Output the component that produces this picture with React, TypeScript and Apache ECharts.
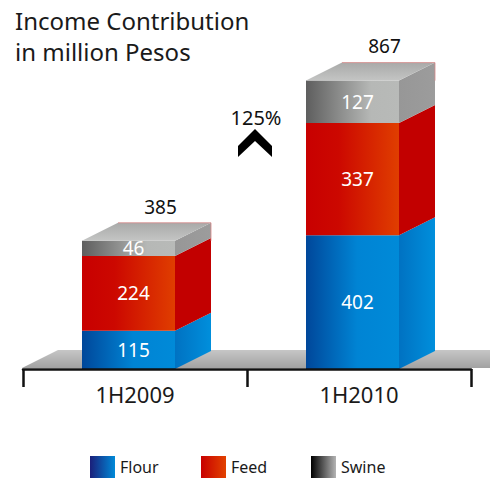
import React, { useEffect, useRef } from "react";
import * as echarts from "echarts";

const categories = ["1H2009", "1H2010"];
const flour = [115, 402];
const feed = [224, 337];
const swine = [46, 127];
const totals = [385, 867];
const growthLabel = "125%";
const seriesNames = ["Flour", "Feed", "Swine"];
const legendLefts = [90, 201, 311];

const FONT = "'Noto Sans', 'Open Sans', sans-serif";
const DX = 36;
const DY = 18;
const FRONT_OFF = -53;
const FRONT_W = 93;

const lg = (stops: [number, string][], x2 = 1, y2 = 0) =>
  new echarts.graphic.LinearGradient(0, 0, x2, y2, stops.map(([offset, color]) => ({ offset, color })));

const palettes = [
  {
    front: [[0, "#00479a"], [0.55, "#0084d4"], [1, "#008ad8"]] as [number, string][],
    side: [[0, "#0072c2"], [1, "#008fdc"]] as [number, string][],
    legend: [[0, "#1a1f7a"], [1, "#008ad8"]] as [number, string][],
  },
  {
    front: [[0, "#c80000"], [0.35, "#cc0800"], [1, "#e03e00"]] as [number, string][],
    side: [[0, "#c20000"], [1, "#c20000"]] as [number, string][],
    legend: [[0, "#c80000"], [1, "#e24200"]] as [number, string][],
  },
  {
    front: [[0, "#5e5e5e"], [0.7, "#b6b8b6"], [1, "#b8bab8"]] as [number, string][],
    side: [[0, "#979797"], [1, "#9c9c9c"]] as [number, string][],
    legend: [[0, "#000000"], [1, "#b4b4b4"]] as [number, string][],
  },
];

const layers = [flour, feed, swine];

function makeRender(segIdx: number) {
  const pal = palettes[segIdx];
  const isTop = segIdx === layers.length - 1;
  return (params: any, api: any) => {
    const x = api.value(0);
    const val = api.value(1);
    const base = api.value(2);
    const p0 = api.coord([x, base]);
    const p1 = api.coord([x, base + val]);
    const left = p0[0] + FRONT_OFF;
    const right = left + FRONT_W;
    const yb = p0[1];
    const yt = p1[1];
    const children: any[] = [
      {
        type: "polygon",
        shape: { points: [[right, yb], [right + DX, yb - DY], [right + DX, yt - DY], [right, yt]] },
        style: { fill: lg(pal.side) },
      },
      {
        type: "rect",
        shape: { x: left, y: yt, width: FRONT_W, height: yb - yt },
        style: { fill: lg(pal.front) },
      },
    ];
    if (isTop) {
      children.push({
        type: "polygon",
        shape: { points: [[left, yt], [left + DX, yt - DY], [right + DX, yt - DY], [right, yt]] },
        style: { fill: lg([[0, "#a9aaa9"], [1, "#c4c5c4"]], 0, 1) },
      });
      children.push({
        type: "polyline",
        shape: { points: [[left + DX, yt - DY], [right + DX, yt - DY], [right + DX, yt]] },
        style: { stroke: "#d88888", lineWidth: 0.8, fill: "none" },
      });
    }
    children.push({
      type: "text",
      x: left + FRONT_W / 2 + 5,
      y: (yb + yt) / 2,
      style: {
        text: String(val),
        fill: "#ffffff",
        fontSize: 19,
        fontFamily: FONT,
        align: "center",
        verticalAlign: "middle",
      },
    });
    return { type: "group", children };
  };
}

function renderTotal(params: any, api: any) {
  const x = api.value(0);
  const val = api.value(1);
  const p = api.coord([x, val]);
  return {
    type: "text",
    x: p[0] + FRONT_OFF + FRONT_W / 2 + 32,
    y: p[1] - DY - 16,
    style: {
      text: String(val),
      fill: "#111111",
      fontSize: 19,
      fontFamily: FONT,
      align: "center",
      verticalAlign: "middle",
    },
  };
}

export default function App() {
  const ref = useRef<HTMLDivElement>(null);
  useEffect(() => {
    if (!ref.current) return;
    const chart = echarts.init(ref.current, null, { renderer: "svg" });
    const series: any[] = layers.map((arr, k) => ({
      type: "custom",
      name: seriesNames[k],
      renderItem: makeRender(k),
      itemStyle: { color: lg(palettes[k].legend) },
      data: categories.map((_, i) => [
        i,
        arr[i],
        layers.slice(0, k).reduce((s, a) => s + a[i], 0),
      ]),
      encode: { x: 0, y: 1 },
      z: 3,
    }));
    series.push({
      type: "custom",
      name: "Total",
      renderItem: renderTotal,
      data: categories.map((_, i) => [i, totals[i]]),
      encode: { x: 0, y: 1 },
      z: 4,
    });
    chart.setOption({
      animation: false,
      title: {
        text: "Income Contribution\nin million Pesos",
        left: 10,
        top: 0,
        textStyle: {
          fontSize: 24,
          fontWeight: "normal",
          fontFamily: FONT,
          color: "#1a1a1a",
          lineHeight: 31,
        },
      },
      grid: { left: 23, right: 19, top: 36, bottom: 109 },
      xAxis: {
        type: "category",
        data: categories,
        boundaryGap: true,
        axisLine: { lineStyle: { color: "#111111", width: 2.5 } },
        axisTick: { show: true, length: 18, lineStyle: { color: "#111111", width: 2.5 } },
        axisLabel: { fontSize: 22, color: "#1a1a1a", fontFamily: FONT, margin: 14 },
        z: 5,
      },
      yAxis: { type: "value", min: 0, max: 1000, show: false },
      legend: seriesNames.map((n, k) => ({
        data: [{ name: n, itemStyle: { color: lg(palettes[k].legend) } }],
        icon: "rect",
        left: legendLefts[k],
        top: 456,
        padding: 0,
        itemWidth: 25,
        itemHeight: 22,
        textStyle: { fontSize: 16, color: "#1a1a1a", fontFamily: FONT, lineHeight: 18 },
      })),
      graphic: [
        {
          type: "polygon",
          z: -10,
          shape: { points: [[22, 368], [58, 350], [530, 350], [494, 368]] },
          style: { fill: lg([[0, "#c6c6c6"], [1, "#a2a2a2"]], 0, 1) },
        },
        {
          type: "text",
          x: 256,
          y: 117,
          style: {
            text: growthLabel,
            fill: "#111111",
            fontSize: 20,
            fontFamily: FONT,
            align: "center",
            verticalAlign: "middle",
          },
        },
        {
          type: "polygon",
          shape: { points: [[238, 146], [255, 129], [272, 146], [272, 157], [255, 141], [238, 157]] },
          style: { fill: "#000000" },
        },
      ],
      series,
    });
    return () => chart.dispose();
  }, []);
  return <div ref={ref} style={{ width: 490, height: 478, position: "absolute", left: 0, top: 0 }} />;
}
